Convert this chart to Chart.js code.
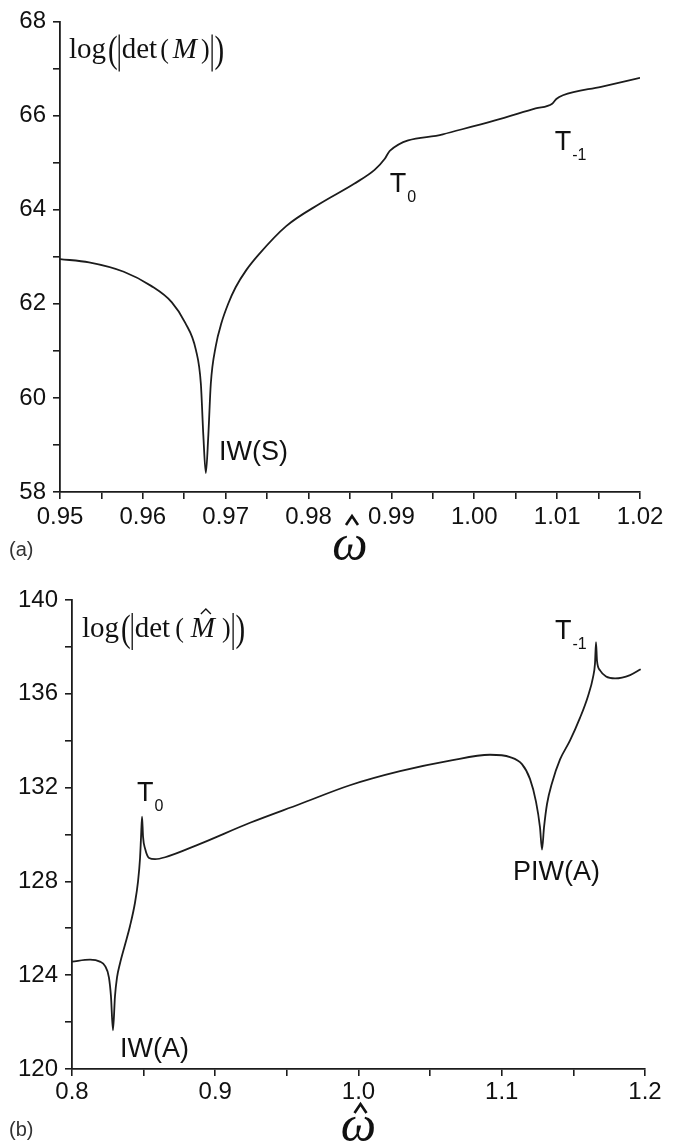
<!DOCTYPE html>
<html>
<head>
<meta charset="utf-8">
<script src="https://cdn.jsdelivr.net/npm/chart.js@4/dist/chart.umd.min.js"></script>
<style>
  html, body { margin: 0; padding: 0; background: #fff; }
  #wrapA { position: absolute; left: 0; top: 0; width: 684px; height: 575px; }
  #wrapB { position: absolute; left: 0; top: 575px; width: 684px; height: 568px; }
</style>
</head>
<body>
<div id="wrapA"><canvas id="chartA"></canvas></div>
<div id="wrapB"><canvas id="chartB"></canvas></div>
<script>
// ---- panel (a) : log(|det(M)|) vs omega ----
const omegaA = [0.95, 0.9535, 0.9577, 0.9610, 0.9635, 0.9651, 0.9664, 0.9670, 0.9673, 0.9676,
  0.9679, 0.9682, 0.9688, 0.9695, 0.9703, 0.9712, 0.9725, 0.9740, 0.9773, 0.9814,
  0.9855, 0.9880, 0.9892, 0.9898, 0.9962, 1.0024, 1.0074, 1.0094, 1.0099, 1.0107, 1.0153, 1.02];
const detA = [62.95, 62.88, 62.68, 62.38, 62.03, 61.6, 61.02, 60.3, 59.2, 58.4,
  59.2, 60.3, 61.1, 61.6, 62.0, 62.35, 62.72, 63.05, 63.65, 64.13,
  64.55, 64.85, 65.08, 65.25, 65.6, 65.89, 66.15, 66.25, 66.35, 66.43, 66.61, 66.8];
const xMajorA = [0.95, 0.96, 0.97, 0.98, 0.99, 1.00, 1.01, 1.02];
const xMinorA = [0.955, 0.965, 0.975, 0.985, 0.995, 1.005, 1.015];
const yMajorA = [58, 60, 62, 64, 66, 68];
const yMinorA = [59, 61, 63, 65, 67];
const annTextA = ["IW(S)", "T", "T"];
const annSubA = ["", "0", "-1"];
const annXA = [0.9692, 0.9898, 1.0097];
const annYA = [58.68, 64.37, 65.26];

// ---- panel (b) : log(|det(M^)|) vs omega ----
const omegaB = [0.8, 0.8126, 0.8195, 0.823, 0.8258, 0.8272, 0.8286, 0.83, 0.8314, 0.8335,
  0.837, 0.8405, 0.844, 0.8461, 0.8475, 0.8482, 0.8489, 0.8496, 0.851, 0.8538,
  0.858, 0.865, 0.8894, 0.9243, 0.9592, 0.994, 1.029, 1.0639, 1.0918, 1.1058,
  1.1141, 1.1197, 1.1239, 1.1267, 1.1281, 1.1295, 1.1316, 1.1351, 1.1407, 1.1476,
  1.1546, 1.1602, 1.1637, 1.1651, 1.1658, 1.1665, 1.1686, 1.1728, 1.1791, 1.1896, 1.197];
const detB = [124.58, 124.66, 124.58, 124.4, 123.9, 123.1, 121.65, 123.1, 123.9, 124.5,
  125.3, 126.1, 127.1, 128.0, 129.0, 129.9, 130.76, 129.9, 129.4, 129.0,
  128.95, 129.03, 129.6, 130.5, 131.3, 132.1, 132.7, 133.15, 133.4, 133.3,
  133.0, 132.37, 131.4, 130.3, 129.36, 130.3, 131.3, 132.2, 133.2, 134.0,
  134.97, 135.9, 136.7, 137.3, 138.2, 137.4, 137.0, 136.74, 136.66, 136.8, 137.05];
const xMajorB = [0.8, 0.9, 1.0, 1.1, 1.2];
const xMinorB = [0.85, 0.95, 1.05, 1.15];
const yMajorB = [120, 124, 128, 132, 136, 140];
const yMinorB = [122, 126, 130, 134, 138];
const annTextB = ["IW(A)", "T", "PIW(A)", "T"];
const annSubB = ["", "0", "", "-1"];
const annXB = [0.8335, 0.8454, 1.1079, 1.1372];
const annYB = [120.5, 131.42, 128.08, 138.33];

const INK = "#1c1c1c";
const SANS = '"Liberation Sans", Arial, sans-serif';
const SERIF = '"Liberation Serif", "Times New Roman", serif';

function hasVal(list, v) {
  return list.some(m => Math.abs(m - v) < 1e-9);
}

function drawDet(ctx, x, base, hat) {
  let cx = x;
  ctx.fillStyle = "#111";
  ctx.strokeStyle = "#111";
  ctx.lineWidth = 1.3;
  ctx.textAlign = "left";
  ctx.textBaseline = "alphabetic";
  const put = (t, font, sy) => {
    ctx.font = font;
    ctx.save();
    ctx.translate(cx, base + (sy > 1.1 ? 4 : 0));
    ctx.scale(1, sy || 1);
    ctx.fillText(t, 0, 0);
    ctx.restore();
    cx += ctx.measureText(t).width;
  };
  const bar = () => {
    ctx.beginPath();
    ctx.moveTo(cx + 1.5, base - 24);
    ctx.lineTo(cx + 1.5, base + 13);
    ctx.stroke();
    cx += 4;
  };
  put("log", "29px " + SERIF);
  cx += 2;
  put("(", "29px " + SERIF, 1.3);
  bar();
  put("det", "29px " + SERIF);
  cx += hat ? 5 : 3;
  put("(", "26px " + SERIF, 1.05);
  cx += hat ? 7 : 4;
  const mx = cx;
  put("M", "italic 29px " + SERIF);
  if (hat) {
    const hx = mx + (cx - mx) / 2 + 3;
    ctx.beginPath();
    ctx.moveTo(hx - 5, base - 23);
    ctx.lineTo(hx, base - 28);
    ctx.lineTo(hx + 5, base - 23);
    ctx.stroke();
  }
  cx += hat ? 7 : 4;
  put(")", "26px " + SERIF, 1.05);
  cx += 1;
  bar();
  put(")", "29px " + SERIF, 1.3);
}

function drawOmega(ctx, cx, base, size, hatUp) {
  ctx.fillStyle = "#111";
  ctx.font = "italic " + size + "px " + SERIF;
  ctx.textAlign = "center";
  ctx.textBaseline = "alphabetic";
  ctx.fillText("\u03C9", cx, base);
  // circumflex above the omega
  ctx.strokeStyle = "#111";
  ctx.lineWidth = 2.6;
  ctx.lineJoin = "miter";
  const top = base - hatUp;
  ctx.beginPath();
  ctx.moveTo(cx - 4, top + 9);
  ctx.lineTo(cx + 2, top);
  ctx.lineTo(cx + 8, top + 9);
  ctx.stroke();
}

function makePanel(canvasId, cfg) {
  const textPlugin = {
    id: "panelText",
    afterDraw(chart) {
      const ctx = chart.ctx;
      const xs = chart.scales.x, ys = chart.scales.y;
      ctx.save();
      ctx.fillStyle = "#111";
      ctx.textAlign = "left";
      ctx.textBaseline = "alphabetic";
      for (let i = 0; i < cfg.annText.length; i++) {
        const px = xs.getPixelForValue(cfg.annX[i]);
        const py = ys.getPixelForValue(cfg.annY[i]);
        ctx.font = "27px " + SANS;
        ctx.fillText(cfg.annText[i], px, py);
        if (cfg.annSub[i]) {
          const w = ctx.measureText(cfg.annText[i]).width;
          ctx.font = "16px " + SANS;
          ctx.fillText(cfg.annSub[i], px + w + 1, py + 10);
        }
      }
      drawDet(ctx, chart.chartArea.left + cfg.detDx, chart.chartArea.top + cfg.detDy, cfg.hat);
      drawOmega(ctx, (chart.chartArea.left + chart.chartArea.right) / 2,
        chart.chartArea.bottom + cfg.omegaDy, cfg.omegaSize, cfg.hatUp);
      ctx.fillStyle = "#333";
      ctx.font = "20px " + SANS;
      ctx.textAlign = "left";
      ctx.fillText(cfg.tag, 9, chart.chartArea.bottom + cfg.tagDy);
      ctx.restore();
    }
  };

  return new Chart(document.getElementById(canvasId), {
    type: "line",
    data: {
      datasets: [{
        data: cfg.xs.map((v, i) => ({ x: v, y: cfg.ys[i] })),
        borderColor: INK,
        borderWidth: 1.8,
        pointRadius: 0,
        fill: false,
        cubicInterpolationMode: "monotone"
      }]
    },
    options: {
      responsive: true,
      maintainAspectRatio: false,
      animation: false,
      layout: { padding: cfg.padding },
      plugins: { legend: { display: false }, tooltip: { enabled: false } },
      scales: {
        x: {
          type: "linear",
          min: cfg.xMajor[0],
          max: cfg.xMajor[cfg.xMajor.length - 1],
          afterBuildTicks(s) {
            s.ticks = cfg.xMajor.concat(cfg.xMinor).sort((a, b) => a - b).map(v => ({ value: v }));
          },
          afterFit(s) { s.height = cfg.xAxisH; },
          border: { display: true, color: INK, width: 1.8 },
          grid: { drawOnChartArea: false, drawTicks: true, tickLength: 7, color: INK, lineWidth: 1.6 },
          ticks: {
            autoSkip: false,
            maxRotation: 0,
            padding: cfg.xPad,
            color: "#111",
            font: { family: SANS, size: 24 },
            callback: v => hasVal(cfg.xMajor, v) ? v.toFixed(cfg.xDigits) : ""
          }
        },
        y: {
          type: "linear",
          min: cfg.yMajor[0],
          max: cfg.yMajor[cfg.yMajor.length - 1],
          afterBuildTicks(s) {
            s.ticks = cfg.yMajor.concat(cfg.yMinor).sort((a, b) => a - b).map(v => ({ value: v }));
          },
          afterFit(s) { s.width = cfg.yAxisW; },
          border: { display: true, color: INK, width: 1.8 },
          grid: { drawOnChartArea: false, drawTicks: true, tickLength: 7, color: INK, lineWidth: 1.6 },
          ticks: {
            autoSkip: false,
            padding: 7,
            color: "#111",
            font: { family: SANS, size: 24 },
            callback: v => hasVal(cfg.yMajor, v) ? String(v) : ""
          }
        }
      }
    },
    plugins: [textPlugin]
  });
}

makePanel("chartA", {
  xs: omegaA, ys: detA,
  xMajor: xMajorA, xMinor: xMinorA, yMajor: yMajorA, yMinor: yMinorA,
  annText: annTextA, annSub: annSubA, annX: annXA, annY: annYA,
  xDigits: 2, hat: false, tag: "(a)", xPad: 4,
  padding: { left: 0, top: 18, right: 44, bottom: 0 },
  yAxisW: 60, xAxisH: 83,
  detDx: 9, detDy: 37, omegaDy: 68, omegaSize: 50, hatUp: 44, tagDy: 64
});

makePanel("chartB", {
  xs: omegaB, ys: detB,
  xMajor: xMajorB, xMinor: xMinorB, yMajor: yMajorB, yMinor: yMinorB,
  annText: annTextB, annSub: annSubB, annX: annXB, annY: annYB,
  xDigits: 1, hat: true, tag: "(b)", xPad: 2,
  padding: { left: 0, top: 25, right: 39, bottom: 0 },
  yAxisW: 72, xAxisH: 74,
  detDx: 10, detDy: 37, omegaDy: 72, omegaSize: 50, hatUp: 37, tagDy: 67
});
</script>
</body>
</html>
